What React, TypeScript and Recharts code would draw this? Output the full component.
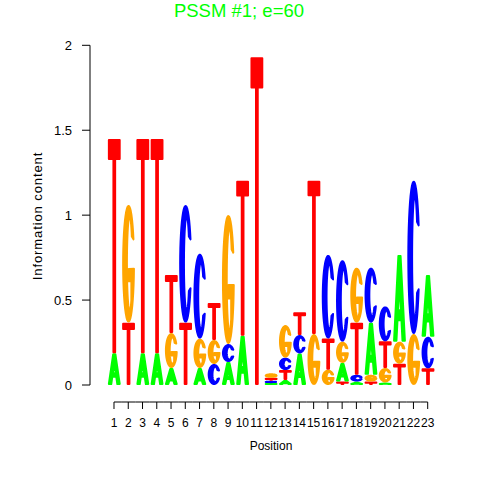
import { BarChart, Bar, XAxis, YAxis } from 'recharts'

// sequence positions and per-letter information content (bits)
const positions = [1, 2, 3, 4, 5, 6, 7, 8, 9, 10, 11, 12, 13, 14, 15, 16, 17, 18, 19, 20, 21, 22, 23]
const heightA = [0.187, 0, 0.187, 0.187, 0.1, 0, 0.1, 0, 0.135, 0.29, 0, 0.011, 0.03, 0.186, 0, 0, 0.11, 0.02, 0.307, 0.015, 0.511, 0, 0.364]
const heightC = [0, 0, 0, 0, 0, 0.693, 0.5, 0.124, 0.106, 0, 0, 0.014, 0.073, 0.108, 0, 0.492, 0.48, 0.04, 0.324, 0.206, 0, 0.903, 0.186]
const heightG = [0, 0.693, 0, 0, 0.206, 0, 0.173, 0.141, 0.76, 0, 0, 0.027, 0.192, 0, 0.3, 0.09, 0.125, 0.324, 0.04, 0.085, 0.13, 0.3, 0]
const heightT = [1.262, 0.367, 1.262, 1.262, 0.342, 0.367, 0, 0.218, 0, 0.913, 1.93, 0.017, 0.058, 0.134, 0.903, 0.184, 0.02, 0.307, 0.02, 0.157, 0.125, 0, 0.098]
// stacking order per position, bottom to top
const stackOrder = ['AT', 'TG', 'AT', 'AT', 'AGT', 'TC', 'AGC', 'CGT', 'ACG', 'AT', 'T', 'ACTG', 'ATCG', 'ACT', 'GT', 'GTC', 'TAGC', 'ACTG', 'TGAC', 'AGTC', 'TGA', 'GC', 'TCA']
const yTicks = [0, 0.5, 1, 1.5, 2]

const COLORS: Record<string, string> = { A: '#00ff00', C: '#0000ff', G: '#ffa500', T: '#ff0000' }
const FONT = '"Liberation Sans", Arial, Helvetica, sans-serif'

const CHART_W = 480
const CHART_H = 480
const MARGIN = { top: 45.3, right: 28.3, bottom: 45, left: 0 }
const Y_AXIS_W = 90
const X_AXIS_H = 50
const X_DOMAIN: [number, number] = [-0.683, 24.683]
const PLOT_W = CHART_W - MARGIN.left - MARGIN.right - Y_AXIS_W
const BAND = PLOT_W / (X_DOMAIN[1] - X_DOMAIN[0])
const PLOT_BOTTOM = CHART_H - MARGIN.bottom - X_AXIS_H

const byLetter: Record<string, number[]> = { A: heightA, C: heightC, G: heightG, T: heightT }
const data = positions.map((pos, i) => {
  const row: Record<string, any> = { pos }
  stackOrder[i].split('').forEach((l, r) => {
    row['v' + r] = byLetter[l][i]
    row['l' + r] = l
  })
  return row
})

// glyph outlines in a unit box (u right, v down)
type Pt = [number, number]
const arc = (cx: number, cy: number, rx: number, ry: number, from: number, to: number, n = 40): Pt[] => {
  const out: Pt[] = []
  for (let k = 0; k <= n; k++) {
    const a = ((from + ((to - from) * k) / n) * Math.PI) / 180
    out.push([cx + rx * Math.cos(a), cy - ry * Math.sin(a)])
  }
  return out
}
const GLYPHS: Record<string, Pt[][]> = {
  T: [[[0, 0], [1, 0], [1, 0.09], [0.58, 0.09], [0.58, 1], [0.42, 1], [0.42, 0.09], [0, 0.09]]],
  A: [
    [[0, 1], [0.4, 0], [0.6, 0], [1, 1], [0.78, 1], [0.684, 0.76], [0.316, 0.76], [0.22, 1]],
    [[0.5, 0.3], [0.636, 0.64], [0.364, 0.64]],
  ],
  C: [[...arc(0.5, 0.5, 0.5, 0.5, 25, 335), ...arc(0.6, 0.5, 0.25, 0.41, 325, 35)]],
  G: [[
    ...arc(0.5, 0.5, 0.5, 0.5, 25, 355),
    [0.52, 0.544], [0.52, 0.65], [0.76, 0.65],
    ...arc(0.6, 0.5, 0.25, 0.41, 310, 35),
  ]],
}

function Letter(props: any) {
  const { x, y, width, height, letter } = props
  if (!letter || !(height > 0) || !Number.isFinite(y)) return null
  const inY = Math.min(1, height / 2)
  const bx = x + 1
  const bw = width - 2
  const by = y + inY
  const bh = height - 2 * inY
  const d = GLYPHS[letter]
    .map((poly) => poly.map(([u, v], k) => `${k ? 'L' : 'M'}${(bx + u * bw).toFixed(2)},${(by + v * bh).toFixed(2)}`).join('') + 'Z')
    .join('')
  const c = COLORS[letter]
  return <path d={d} fill={c} stroke={c} strokeWidth={2} strokeLinejoin="round" fillRule="evenodd" />
}

function PosTick(props: any) {
  const { x, payload, index } = props
  const y0 = PLOT_BOTTOM + 17
  const last = positions.length - 1
  return (
    <g>
      <line x1={index > 0 ? x - BAND / 2 : x} x2={index < last ? x + BAND / 2 : x} y1={y0} y2={y0} stroke="#000" />
      <line x1={x} x2={x} y1={y0} y2={y0 + 7} stroke="#000" />
      <text x={x} y={y0 + 25} textAnchor="middle" fontSize={12} fill="#000" fontFamily={FONT}>
        {payload.value}
      </text>
    </g>
  )
}

export default function App() {
  return (
    <div style={{ position: 'relative', width: CHART_W, height: CHART_H, background: '#fff', fontFamily: FONT }}>
      <style>{'body{margin:0}'}</style>
      <BarChart width={CHART_W} height={CHART_H} data={data} margin={MARGIN} barGap={0}>
        <XAxis
          dataKey="pos" type="number" domain={X_DOMAIN} ticks={positions} interval={0}
          height={X_AXIS_H} axisLine={false} tickLine={false} tick={<PosTick />} allowDataOverflow
        />
        <YAxis
          domain={[0, 2]} ticks={yTicks} width={Y_AXIS_W} tickSize={8} tickMargin={10}
          axisLine={{ stroke: '#000' }} tickLine={{ stroke: '#000' }}
          tick={{ fill: '#000', fontSize: 13, fontFamily: FONT }}
        />
        {[0, 1, 2, 3].map((r) => (
          <Bar
            key={r}
            dataKey={'v' + r}
            stackId="logo"
            barSize={BAND}
            isAnimationActive={false}
            shape={(p: any) => <Letter {...p} letter={p.payload?.['l' + r]} />}
          />
        ))}
      </BarChart>
      <svg width={CHART_W} height={CHART_H} style={{ position: 'absolute', left: 0, top: 0, pointerEvents: 'none' }}>
        <text x={239} y={17} textAnchor="middle" fontSize={18.5} fill="#00ff00" fontFamily={FONT}>PSSM #1; e=60</text>
        <text x={42} y={216} textAnchor="middle" fontSize={13} letterSpacing={0.9} fill="#000" fontFamily={FONT} transform="rotate(-90 42 216)">
          Information content
        </text>
        <text x={271} y={450} textAnchor="middle" fontSize={12} fill="#000" fontFamily={FONT}>Position</text>
      </svg>
    </div>
  )
}
